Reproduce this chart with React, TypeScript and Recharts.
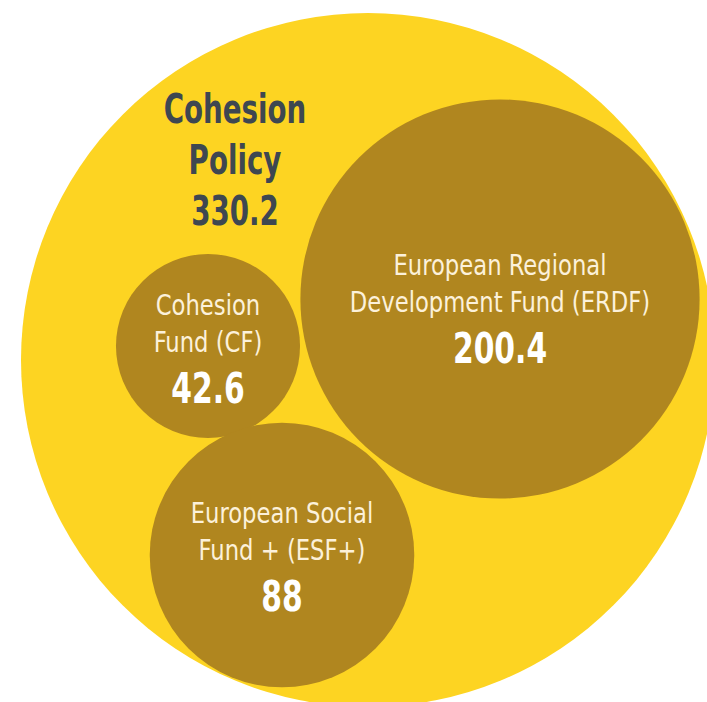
import { ScatterChart, Scatter, XAxis, YAxis, ZAxis } from "recharts";

// values (EUR bn)
const policyName = ["Cohesion", "Policy"];
const policyAmount = 330.2;
const fundNames = [
  ["European Regional", "Development Fund (ERDF)"],
  ["Cohesion", "Fund (CF)"],
  ["European Social", "Fund + (ESF+)"],
];
const fundAmounts = [200.4, 42.6, 88];

// bubble layout, in chart units (1 unit = 1px)
const policyCentre = { x: 368, y: 360 };
const fundX = [500, 208, 282];
const fundY = [299, 346, 555];
const fundLabelDy = [-24, -31, -32];

const W = 707;
const H = 702;
const YELLOW = "#FDD422";
const BROWN = "#B0861F";
const FONT =
  "'Liberation Sans Narrow', 'DejaVu Sans Condensed', 'Roboto Condensed', 'Arial Narrow', Roboto, sans-serif";
// squeeze the text a bit, the original uses a condensed face
const SQUEEZE = 0.87;
const SQUEEZE_BOLD = 0.77;

// area scales: funds share one, the envelope circle is drawn on its own
const FUND_K2 = 14.1 * 14.1;
const POLICY_K2 = (347 * 347) / policyAmount;
const Z_MAX = 400;

const policyData = [
  {
    x: policyCentre.x,
    y: policyCentre.y,
    amount: policyAmount,
    lines: policyName,
  },
];

const fundData = fundAmounts.map((amount, i) => ({
  x: fundX[i],
  y: fundY[i],
  amount,
  lines: fundNames[i],
  dy: fundLabelDy[i],
}));

function radiusOf(props: any) {
  if (typeof props.size === "number") return Math.sqrt(props.size / Math.PI);
  return props.width / 2;
}

function PolicyBubble(props: any) {
  const { cx, cy, payload } = props;
  const r = radiusOf(props);
  const tx = cx - 133;
  const ty = cy - 237;
  return (
    <g>
      <circle cx={cx} cy={cy} r={r} fill={YELLOW} />
      <g transform={`translate(${tx} 0) scale(${SQUEEZE_BOLD} 1)`}>
        <text
          textAnchor="middle"
          fontFamily={FONT}
          fontWeight={700}
          fontSize={40}
          fill="#3E4751"
        >
          {payload.lines.map((t: string, i: number) => (
            <tspan key={t} x={0} y={ty + i * 51}>
              {t}
            </tspan>
          ))}
          <tspan x={0} y={ty + payload.lines.length * 51}>
            {payload.amount}
          </tspan>
        </text>
      </g>
    </g>
  );
}

function FundBubble(props: any) {
  const { cx, cy, payload } = props;
  const r = radiusOf(props);
  const ty = cy + payload.dy;
  const n = payload.lines.length;
  return (
    <g>
      <circle cx={cx} cy={cy} r={r} fill={BROWN} />
      <g transform={`translate(${cx} 0) scale(${SQUEEZE} 1)`}>
        <text textAnchor="middle" fontFamily={FONT} fontSize={29} fill="#FCF1DA">
          {payload.lines.map((t: string, i: number) => (
            <tspan key={t} x={0} y={ty + i * 37}>
              {t}
            </tspan>
          ))}
        </text>
      </g>
      <g transform={`translate(${cx} 0) scale(${SQUEEZE_BOLD} 1)`}>
        <text
          x={0}
          y={ty + (n - 1) * 37 + 51}
          textAnchor="middle"
          fontFamily={FONT}
          fontWeight={700}
          fontSize={43}
          fill="#FFFFFF"
        >
          {payload.amount}
        </text>
      </g>
    </g>
  );
}

export default function App() {
  return (
    <div style={{ position: "absolute", left: 0, top: 0, background: "#fff" }}>
      <ScatterChart
        width={W}
        height={H}
        margin={{ top: 0, right: 0, bottom: 0, left: 0 }}
      >
        <XAxis type="number" dataKey="x" domain={[0, W]} hide />
        <YAxis type="number" dataKey="y" domain={[0, H]} reversed hide />
        <ZAxis
          zAxisId="policy"
          type="number"
          dataKey="amount"
          domain={[0, Z_MAX]}
          range={[0, Math.PI * POLICY_K2 * Z_MAX]}
        />
        <ZAxis
          zAxisId="funds"
          type="number"
          dataKey="amount"
          domain={[0, Z_MAX]}
          range={[0, Math.PI * FUND_K2 * Z_MAX]}
        />
        <Scatter
          data={policyData}
          zAxisId="policy"
          shape={<PolicyBubble />}
          isAnimationActive={false}
        />
        <Scatter
          data={fundData}
          zAxisId="funds"
          shape={<FundBubble />}
          isAnimationActive={false}
        />
      </ScatterChart>
    </div>
  );
}
